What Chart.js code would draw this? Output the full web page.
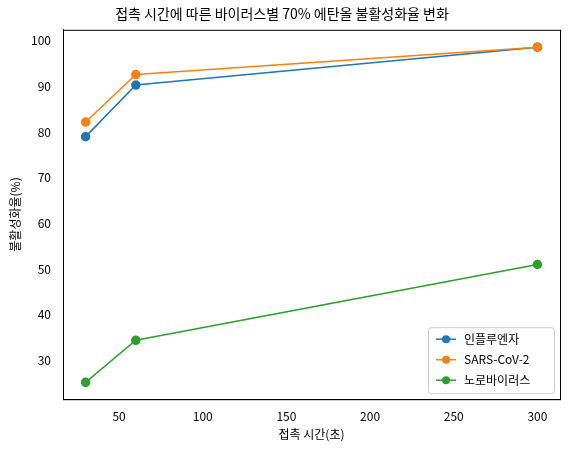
<!DOCTYPE html>
<html><head><meta charset="utf-8">
<script src="https://cdn.jsdelivr.net/npm/chart.js@4"></script>
<style>html,body{margin:0;padding:0;background:#fff}#w{width:569px;height:455px}</style>
</head><body><div id="w"><canvas id="c"></canvas></div>
<script>
const times=[30,60,300];
const seriesNames=['인플루엔자','SARS-CoV-2','노로바이러스'];
const influenza=[79.0,90.3,98.6];
const sars=[82.2,92.6,98.6];
const noro=[25.2,34.4,51.0];
const colors=['#1f77b4','#ff7f0e','#2ca02c'];
const F='"Noto Sans CJK KR","DejaVu Sans",sans-serif';
const vals=[influenza,sars,noro];
const ds=vals.map((v,i)=>({label:seriesNames[i],order:3-i,data:times.map((t,j)=>({x:t,y:v[j]})),borderColor:colors[i],backgroundColor:colors[i],pointRadius:4,pointHoverRadius:4,borderWidth:1.5,tension:0}));
const legendPlugin={id:'lg',afterDraw(ch){const c=ch.ctx,a=ch.chartArea;const w=126,h=66,x=a.right-w-6,y=a.bottom-h-6;
c.save();c.fillStyle='rgba(255,255,255,0.8)';c.strokeStyle='#ccc';c.lineWidth=1;c.beginPath();c.roundRect(x+.5,y+.5,w,h,3);c.fill();c.stroke();
c.font='12px '+F;c.textBaseline='middle';
ch.data.datasets.forEach((d,i)=>{const yy=y+12+i*20.5;c.strokeStyle=d.borderColor;c.lineWidth=1.5;c.beginPath();c.moveTo(x+8,yy);c.lineTo(x+28,yy);c.stroke();c.fillStyle=d.borderColor;c.beginPath();c.arc(x+18,yy,4,0,7);c.fill();c.fillStyle='#000';c.fillText(d.label,x+36,yy);});
c.restore();}};
const border={id:'bd',afterDraw(ch){const c=ch.ctx,a=ch.chartArea;c.save();c.strokeStyle='#000';c.lineWidth=1;c.strokeRect(a.left+.5,a.top+.5,a.right-a.left,a.bottom-a.top);c.restore();}};
new Chart(document.getElementById('c'),{type:'line',data:{datasets:ds},plugins:[legendPlugin,border],
options:{responsive:true,maintainAspectRatio:false,animation:false,layout:{padding:{top:5,right:9,left:4,bottom:9}},
plugins:{legend:{display:false},tooltip:{enabled:false},title:{display:true,text:'접촉 시간에 따른 바이러스별 70% 에탄올 불활성화율 변화',color:'#000',font:{family:F,size:14,weight:'normal'},padding:{top:0,bottom:8}}},
scales:{x:{type:'linear',min:16.5,max:313.5,grid:{display:false},border:{color:'#000'},
afterBuildTicks(s){s.ticks=[50,100,150,200,250,300].map(v=>({value:v}));},
ticks:{color:'#000',font:{family:F,size:12},padding:2},title:{display:true,text:'접촉 시간(초)',color:'#000',font:{family:F,size:12},padding:{top:2}}},
y:{min:21.5,max:102.4,grid:{display:false},border:{color:'#000'},
afterBuildTicks(s){s.ticks=[30,40,50,60,70,80,90,100].map(v=>({value:v}));},
afterFit(s){s.width=59;},
ticks:{color:'#000',font:{family:F,size:12},padding:4},title:{display:true,text:'불활성화율(%)',color:'#000',font:{family:F,size:12},padding:{bottom:2}}}}}});
</script></body></html>
